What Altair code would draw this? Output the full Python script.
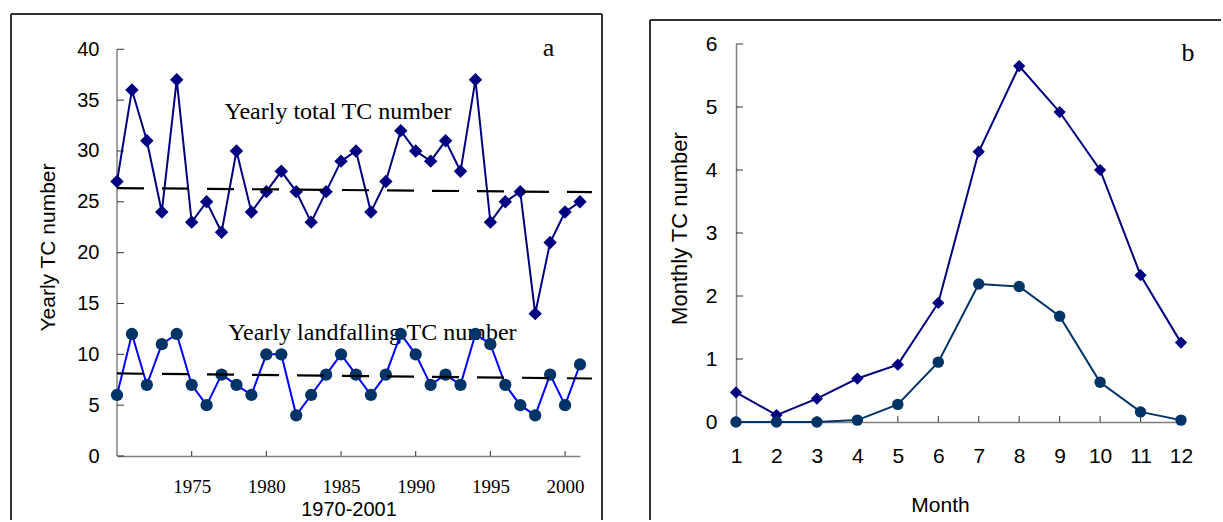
import altair as alt
import pandas as pd

# ---------------- data ----------------
years = list(range(1970, 2002))
total_tc = [27, 36, 31, 24, 37, 23, 25, 22, 30, 24, 26, 28, 26, 23, 26, 29,
            30, 24, 27, 32, 30, 29, 31, 28, 37, 23, 25, 26, 14, 21, 24, 25]
landfall_tc = [6, 12, 7, 11, 12, 7, 5, 8, 7, 6, 10, 10, 4, 6, 8, 10,
               8, 6, 8, 12, 10, 7, 8, 7, 12, 11, 7, 5, 4, 8, 5, 9]
trend_years = [1970, 2001.8]
total_trend = [26.35, 25.95]
landfall_trend = [8.12, 7.62]
year_ticks = [1975, 1980, 1985, 1990, 1995, 2000]
count_ticks = [0, 5, 10, 15, 20, 25, 30, 35, 40]

months = list(range(1, 13))
monthly_total = [0.47, 0.11, 0.37, 0.69, 0.91, 1.89, 4.29, 5.65, 4.92, 4.00, 2.33, 1.26]
monthly_landfall = [0.0, 0.0, 0.0, 0.03, 0.28, 0.95, 2.19, 2.15, 1.68, 0.63, 0.16, 0.03]
monthly_ticks = [0, 1, 2, 3, 4, 5, 6]

labels_a = ["Yearly total TC number", "Yearly landfalling TC number"]
labels_a_x = [1984.8, 1987.1]
labels_a_y = [33.8, 12.1]

# ---------------- styling ----------------
SANS = "Liberation Sans"
SERIF = "Liberation Serif"
NAVY = "#000080"
DARK = "#003366"
BLUE = "#0000FF"
AXIS_GREY = "#808080"
TICK = "#333333"
FRAME = "#333333"

W_A, H_A = 463, 412
W_B, H_B = 445, 378

# ---------------- panel a ----------------
yearly = pd.DataFrame({"year": years, "total": total_tc, "landfall": landfall_tc})
trend = pd.DataFrame({"year": trend_years, "total": total_trend, "landfall": landfall_trend})
ann = pd.DataFrame({"x": labels_a_x, "y": labels_a_y, "t": labels_a})
panel_tag_a = pd.DataFrame({"x": [1998.9], "y": [40.1], "t": ["a"]})

xa_scale = alt.Scale(domain=[1970, 2001], nice=False, zero=False)
ya_scale = alt.Scale(domain=[0, 40.52], nice=False, zero=False)

xa_axis = alt.Axis(values=year_ticks, format="d", grid=False, ticks=False, tickSize=0,
                   domainColor=AXIS_GREY, domainWidth=1.5,
                   labelFont=SERIF, labelFontSize=19, labelColor="black",
                   labelPadding=21, labelFlush=False, labelOverlap=False,
                   title="1970-2001", titleFont=SANS, titleFontSize=20,
                   titleFontWeight="normal", titleColor="black",
                   titleY=53, titleBaseline="middle")
ya_axis = alt.Axis(values=count_ticks, grid=False, domain=False, ticks=False, tickSize=0,
                   labelFont=SANS, labelFontSize=20, labelColor="black",
                   labelPadding=18, labelFlush=False, labelOverlap=False,
                   title="Yearly TC number", titleFont=SANS, titleFontSize=21,
                   titleFontWeight="normal", titleColor="black",
                   titleX=-69, titleY=203, titleAngle=270,
                   titleAlign="center", titleBaseline="middle")


def xa(field):
    return alt.X(field, scale=xa_scale, axis=xa_axis)


def ya(field):
    return alt.Y(field, scale=ya_scale, axis=ya_axis)


base_a = alt.Chart(yearly)

text_a = alt.Chart(ann).mark_text(font=SERIF, fontSize=24, color="black").encode(
    x=xa("x:Q"), y=ya("y:Q"), text="t:N")
tag_a = alt.Chart(panel_tag_a).mark_text(font=SERIF, fontSize=26, color="black").encode(
    x=xa("x:Q"), y=ya("y:Q"), text="t:N")

total_line = base_a.mark_line(color=NAVY, strokeWidth=2).encode(x=xa("year:Q"), y=ya("total:Q"))
total_pts = base_a.mark_point(shape="diamond", filled=True, size=180, color=NAVY, opacity=1).encode(
    x=xa("year:Q"), y=ya("total:Q"))
land_line = base_a.mark_line(color=BLUE, strokeWidth=2).encode(x=xa("year:Q"), y=ya("landfall:Q"))
land_pts = base_a.mark_circle(size=150, color=DARK, opacity=1).encode(
    x=xa("year:Q"), y=ya("landfall:Q"))

trend_total = alt.Chart(trend).mark_line(color="black", strokeWidth=2.2, strokeDash=[27, 18]).encode(
    x=xa("year:Q"), y=ya("total:Q"))
trend_land = alt.Chart(trend).mark_line(color="black", strokeWidth=2.2, strokeDash=[27, 18]).encode(
    x=xa("year:Q"), y=ya("landfall:Q"))

y_axis_line_a = alt.Chart(pd.DataFrame({"y0": [0], "y1": [40]})).mark_rule(
    color=AXIS_GREY, strokeWidth=1.5).encode(x=alt.value(0), y=ya("y0:Q"), y2="y1:Q")
y_ticks_a = alt.Chart(pd.DataFrame({"v": count_ticks})).mark_rule(color=TICK, strokeWidth=1).encode(
    y=ya("v:Q"), x=alt.value(0), x2=alt.value(7))
x_ticks_a = alt.Chart(pd.DataFrame({"v": year_ticks})).mark_rule(color=TICK, strokeWidth=1).encode(
    x=xa("v:Q"), y=alt.value(H_A), y2=alt.value(H_A - 5))

frame0 = pd.DataFrame({"k": [0]})
frame_a = [
    alt.Chart(frame0).mark_rule(color=FRAME, strokeWidth=2).encode(
        x=alt.value(-106), x2=alt.value(485), y=alt.value(-30)),
    alt.Chart(frame0).mark_rule(color=FRAME, strokeWidth=2).encode(
        x=alt.value(-106), y=alt.value(-30), y2=alt.value(476)),
    alt.Chart(frame0).mark_rule(color=FRAME, strokeWidth=2).encode(
        x=alt.value(485), y=alt.value(-30), y2=alt.value(476)),
]

panel_a = alt.layer(
    *frame_a, text_a, tag_a, y_axis_line_a, y_ticks_a, x_ticks_a,
    total_line, land_line, total_pts, land_pts, trend_total, trend_land
).properties(width=W_A, height=H_A)

# ---------------- panel b ----------------
monthly = pd.DataFrame({"month": months, "total": monthly_total, "landfall": monthly_landfall})
panel_tag_b = pd.DataFrame({"x": [12.17], "y": [5.86], "t": ["b"]})

xb_scale = alt.Scale(domain=[1, 12], nice=False, zero=False)
yb_scale = alt.Scale(domain=[0, 6], nice=False, zero=False)

xb_axis = alt.Axis(values=months, format="d", grid=False, ticks=False, tickSize=0,
                   domainColor=AXIS_GREY, domainWidth=1.5,
                   labelFont=SANS, labelFontSize=21, labelColor="black",
                   labelPadding=23, labelFlush=False, labelOverlap=False,
                   title="Month", titleFont=SANS, titleFontSize=21,
                   titleFontWeight="normal", titleColor="black",
                   titleX=204, titleY=83, titleBaseline="middle")
yb_axis = alt.Axis(values=monthly_ticks, grid=False, ticks=False, tickSize=0,
                   domainColor=AXIS_GREY, domainWidth=1.5,
                   labelFont=SANS, labelFontSize=21, labelColor="black",
                   labelPadding=19, labelFlush=False, labelOverlap=False,
                   title="Monthly TC number", titleFont=SANS, titleFontSize=22,
                   titleFontWeight="normal", titleColor="black",
                   titleX=-57, titleY=184, titleAngle=270,
                   titleAlign="center", titleBaseline="middle")


def xb(field):
    return alt.X(field, scale=xb_scale, axis=xb_axis)


def yb(field):
    return alt.Y(field, scale=yb_scale, axis=yb_axis)


base_b = alt.Chart(monthly)
tag_b = alt.Chart(panel_tag_b).mark_text(font=SERIF, fontSize=26, color="black").encode(
    x=xb("x:Q"), y=yb("y:Q"), text="t:N")
mt_line = base_b.mark_line(color=NAVY, strokeWidth=2).encode(x=xb("month:Q"), y=yb("total:Q"))
mt_pts = base_b.mark_point(shape="diamond", filled=True, size=150, color=NAVY, opacity=1).encode(
    x=xb("month:Q"), y=yb("total:Q"))
ml_line = base_b.mark_line(color=DARK, strokeWidth=2).encode(x=xb("month:Q"), y=yb("landfall:Q"))
ml_pts = base_b.mark_circle(size=130, color=DARK, opacity=1).encode(
    x=xb("month:Q"), y=yb("landfall:Q"))

y_ticks_b = alt.Chart(pd.DataFrame({"v": monthly_ticks})).mark_rule(color=TICK, strokeWidth=1).encode(
    y=yb("v:Q"), x=alt.value(0), x2=alt.value(7))
x_ticks_b = alt.Chart(pd.DataFrame({"v": months})).mark_rule(color=TICK, strokeWidth=1).encode(
    x=xb("v:Q"), y=alt.value(H_B), y2=alt.value(H_B - 6))

frame_b = [
    alt.Chart(frame0).mark_rule(color=FRAME, strokeWidth=2).encode(
        x=alt.value(-86), x2=alt.value(485), y=alt.value(-24)),
    alt.Chart(frame0).mark_rule(color=FRAME, strokeWidth=2).encode(
        x=alt.value(-86), y=alt.value(-24), y2=alt.value(476)),
]

panel_b = alt.layer(
    *frame_b, tag_b, y_ticks_b, x_ticks_b, mt_line, ml_line, mt_pts, ml_pts
).properties(width=W_B, height=H_B)

chart = alt.hconcat(panel_a, panel_b, spacing=156, bounds="flush").properties(
    padding={"left": 10, "top": 13, "right": 0, "bottom": 0},
    background="white",
).configure_view(strokeWidth=0)

chart.save("out.html", embed_options={"renderer": "svg", "actions": False})
